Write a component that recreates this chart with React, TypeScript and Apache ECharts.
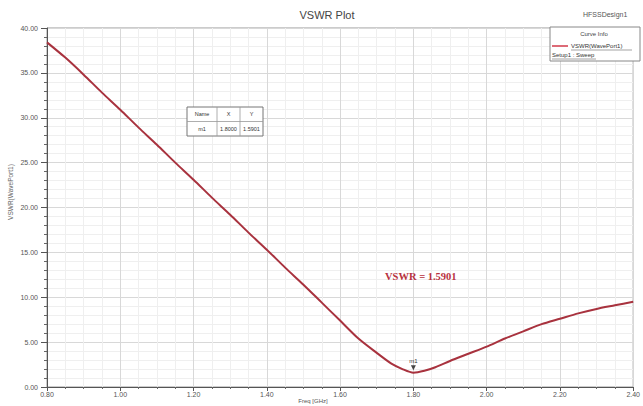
import React, { useEffect, useRef } from "react";
import * as echarts from "echarts";

// ---- data ----
const freqGHz = [
  0.8, 0.85, 0.9, 0.95, 1.0, 1.05, 1.1, 1.15, 1.2, 1.25, 1.3, 1.35, 1.4, 1.45,
  1.5, 1.55, 1.6, 1.65, 1.7, 1.74, 1.77, 1.8, 1.83, 1.86, 1.9, 1.95, 2.0, 2.05,
  2.1, 2.15, 2.2, 2.25, 2.3, 2.35, 2.4,
];
const vswrValues = [
  38.4, 36.7, 34.8, 32.8, 30.9, 28.9, 27.0, 25.0, 23.1, 21.1, 19.2, 17.2, 15.3,
  13.3, 11.4, 9.4, 7.4, 5.4, 3.8, 2.6, 2.0, 1.59, 1.8, 2.2, 2.9, 3.7, 4.5, 5.4,
  6.2, 7.0, 7.6, 8.2, 8.7, 9.1, 9.5,
];
const markerName = "m1";
const markerFreq = 1.8;
const markerVswr = 1.5901;
const tableHeader = ["Name", "X", "Y"];
const tableRow = ["m1", "1.8000", "1.5901"];
const titleText = "VSWR Plot";
const designText = "HFSSDesign1";
const curveLabel = "VSWR(WavePort1)";
const setupLabel = "Setup1 : Sweep";
const legendTitle = "Curve Info";
const annotationText = "VSWR = 1.5901";
const xAxisName = "Freq [GHz]";
const yAxisName = "VSWR(WavePort1)";
const xMin = 0.8;
const xMax = 2.4;
const xStep = 0.2;
const yMin = 0;
const yMax = 40;
const yStep = 5;

const SANS = "Liberation Sans, Arial, sans-serif";

export default function App() {
  const ref = useRef<HTMLDivElement>(null);

  useEffect(() => {
    document.body.style.margin = "0";
    if (!ref.current) return;
    const chart = echarts.init(ref.current, undefined, { renderer: "svg" });

    const lineData = freqGHz.map((f, i) => [f, vswrValues[i]]);

    const txt = (
      text: string,
      x: number,
      y: number,
      size: number,
      fill: string,
      align: string = "left",
      extra: any = {}
    ) => ({
      type: "text",
      x,
      y,
      z: 100,
      ...extra,
      style: {
        text,
        fontSize: size,
        fontFamily: SANS,
        fill,
        align,
        verticalAlign: "middle",
        ...(extra.style || {}),
      },
    });

    // marker table geometry
    const tX = 187, tY = 107, tW = 76, rowH = 14.5;
    const colX = [187, 217, 240, 263];

    const graphic: any[] = [
      txt(titleText, 327, 15, 11, "#444", "center"),
      txt(designText, 583, 14, 7, "#555", "left"),
      // legend box
      {
        type: "rect",
        z: 100,
        shape: { x: 550, y: 27, width: 90, height: 34 },
        style: { fill: "#fff", stroke: "#888", lineWidth: 1 },
      },
      txt(legendTitle, 594, 34, 6, "#444", "center"),
      {
        type: "line",
        z: 101,
        shape: { x1: 552, y1: 46, x2: 568, y2: 46 },
        style: { stroke: "#d23a4a", lineWidth: 1.5 },
      },
      txt(curveLabel, 571, 46, 6, "#333", "left"),
      {
        type: "line",
        z: 101,
        shape: { x1: 571, y1: 50, x2: 632, y2: 50 },
        style: { stroke: "#666", lineWidth: 0.6 },
      },
      txt(setupLabel, 552, 55, 6, "#333", "left"),
      {
        type: "line",
        z: 101,
        shape: { x1: 552, y1: 59, x2: 596, y2: 59 },
        style: { stroke: "#666", lineWidth: 0.6 },
      },
      // marker table
      {
        type: "rect",
        z: 100,
        shape: { x: tX, y: tY, width: tW, height: rowH * 2 },
        style: { fill: "#fff", stroke: "#777", lineWidth: 1 },
      },
      {
        type: "line",
        z: 101,
        shape: { x1: tX, y1: tY + rowH, x2: tX + tW, y2: tY + rowH },
        style: { stroke: "#999", lineWidth: 0.8 },
      },
      {
        type: "line",
        z: 101,
        shape: { x1: colX[1], y1: tY, x2: colX[1], y2: tY + rowH * 2 },
        style: { stroke: "#999", lineWidth: 0.8 },
      },
      {
        type: "line",
        z: 101,
        shape: { x1: colX[2], y1: tY, x2: colX[2], y2: tY + rowH * 2 },
        style: { stroke: "#999", lineWidth: 0.8 },
      },
      ...tableHeader.map((h, i) =>
        txt(h, (colX[i] + colX[i + 1]) / 2, tY + rowH / 2, 5.5, "#333", "center")
      ),
      ...tableRow.map((h, i) =>
        txt(h, (colX[i] + colX[i + 1]) / 2, tY + rowH * 1.5, 5.5, "#333", "center")
      ),
      // annotation
      {
        type: "text",
        x: 385,
        y: 276,
        z: 100,
        style: {
          text: annotationText,
          fontSize: 10.5,
          fontWeight: "bold",
          fontFamily: "Liberation Serif, Times New Roman, serif",
          fill: "#b8323e",
          align: "left",
          verticalAlign: "middle",
        },
      },
      // axis names
      txt(yAxisName, 10, 192, 6.5, "#666", "center", { rotation: Math.PI / 2 }),
      txt(xAxisName, 313, 401, 6, "#555", "center"),
    ];

    const axisCommon = {
      type: "value",
      axisLine: { show: true, lineStyle: { color: "#555", width: 1 } },
      axisLabel: { fontSize: 7, color: "#555", fontFamily: SANS },
      splitLine: { show: true, lineStyle: { color: "#d8d8d8", width: 1 } },
      minorSplitLine: { show: true, lineStyle: { color: "#efefef", width: 1 } },
    };

    chart.setOption({
      animation: false,
      backgroundColor: "#ffffff",
      textStyle: { fontFamily: SANS },
      grid: {
        left: 47,
        right: 3,
        top: 28,
        bottom: 19,
        show: true,
        borderColor: "#999",
        borderWidth: 1,
        backgroundColor: "transparent",
      },
      xAxis: {
        ...axisCommon,
        min: xMin,
        max: xMax,
        interval: xStep,
        axisTick: { show: true, length: 4, lineStyle: { color: "#555" } },
        minorTick: { show: true, splitNumber: 4, length: 2, lineStyle: { color: "#666" } },
        axisLabel: {
          ...axisCommon.axisLabel,
          margin: 4,
          formatter: (v: number) => v.toFixed(2),
        },
      },
      yAxis: {
        ...axisCommon,
        min: yMin,
        max: yMax,
        interval: yStep,
        axisTick: { show: true, length: 6, lineStyle: { color: "#555" } },
        minorTick: { show: true, splitNumber: 5, length: 3, lineStyle: { color: "#666" } },
        axisLabel: {
          ...axisCommon.axisLabel,
          margin: 9,
          formatter: (v: number) => v.toFixed(2),
        },
      },
      series: [
        {
          type: "line",
          data: lineData,
          smooth: 0.25,
          symbol: "none",
          lineStyle: { color: "#a8323e", width: 2 },
          markPoint: {
            symbol: "triangle",
            symbolSize: [5, 5],
            symbolRotate: 180,
            symbolOffset: [0, -5],
            itemStyle: { color: "#444" },
            label: {
              show: true,
              position: "top",
              distance: 1,
              formatter: markerName,
              fontSize: 6,
              color: "#333",
            },
            data: [{ coord: [markerFreq, markerVswr], value: markerVswr }],
          },
        },
      ],
      graphic,
    });

    return () => chart.dispose();
  }, []);

  return (
    <div
      ref={ref}
      style={{
        position: "fixed",
        left: 0,
        top: 0,
        width: 643,
        height: 406,
        background: "#fff",
      }}
    />
  );
}
